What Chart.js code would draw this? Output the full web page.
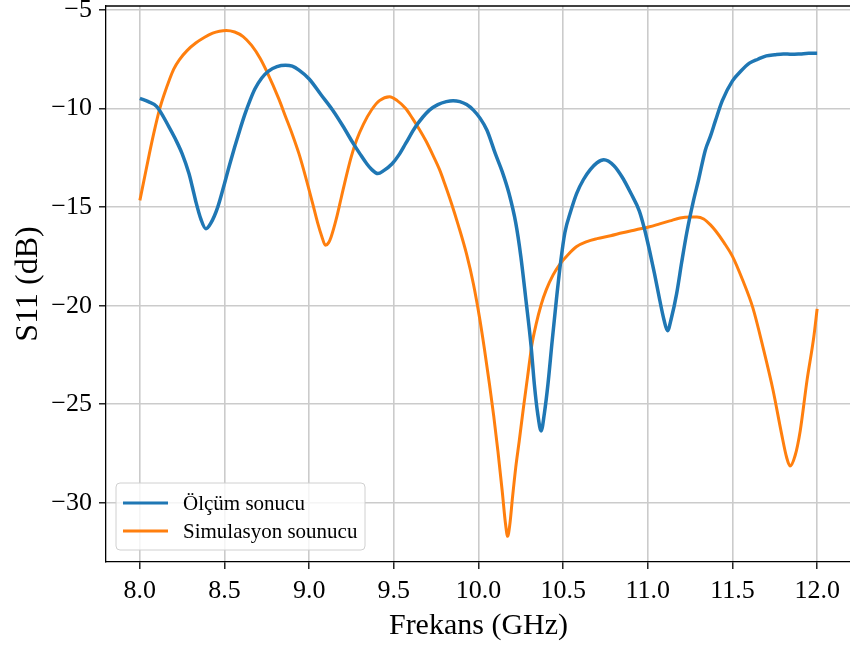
<!DOCTYPE html>
<html>
<head>
<meta charset="utf-8">
<script src="https://cdn.jsdelivr.net/npm/chart.js@4.4.0/dist/chart.umd.min.js"></script>
<style>
body { margin: 0; overflow: hidden; background: #fff; }
#wrap { width: 870px; height: 646px; position: relative; }
</style>
</head>
<body>
<div id="wrap"><canvas id="myChart"></canvas></div>
<script>
// measured S11 (blue)
const olcumX = [8.0, 8.05, 8.1, 8.17, 8.21, 8.25, 8.29, 8.31, 8.33, 8.36, 8.39, 8.42, 8.46, 8.5, 8.53, 8.56, 8.59, 8.62, 8.65, 8.68,
    8.72, 8.76, 8.81, 8.86, 8.9, 8.94, 9.0, 9.07, 9.14, 9.2, 9.26, 9.3, 9.34, 9.37, 9.405, 9.44, 9.49, 9.53, 9.57, 9.63,
    9.71, 9.76, 9.81, 9.85, 9.89, 9.93, 9.97, 10.01, 10.05, 10.1, 10.14, 10.18, 10.22, 10.25, 10.28, 10.31, 10.33, 10.35, 10.37, 10.39,
    10.41, 10.435, 10.46, 10.485, 10.51, 10.545, 10.58, 10.62, 10.66, 10.7, 10.74, 10.8, 10.85, 10.9, 10.95, 10.98, 11.01, 11.04, 11.07, 11.095,
    11.116, 11.14, 11.17, 11.2, 11.23, 11.27, 11.3, 11.34, 11.37, 11.4, 11.44, 11.5, 11.55, 11.6, 11.65, 11.7, 11.75, 11.8, 11.85, 11.9,
    11.95, 12.0];
const olcumY = [-9.48, -9.65, -9.9, -10.9, -11.55, -12.3, -13.3, -13.98, -14.7, -15.6, -16.1, -15.8, -15.0, -13.8, -12.85, -11.95, -11.1, -10.3, -9.6, -9.0,
    -8.45, -8.1, -7.87, -7.8, -7.85, -8.05, -8.5, -9.3, -10.1, -10.9, -11.77, -12.3, -12.8, -13.1, -13.3, -13.15, -12.8, -12.35, -11.77, -10.9,
    -10.08, -9.8, -9.65, -9.6, -9.65, -9.8, -10.08, -10.5, -11.1, -12.3, -13.2, -14.3, -15.8, -17.5, -19.7, -22.0, -24.0, -25.5, -26.35, -25.4,
    -24.0, -21.8, -19.7, -17.8, -16.3, -15.2, -14.3, -13.6, -13.1, -12.75, -12.6, -12.9, -13.5, -14.3, -15.2, -16.1, -17.2, -18.4, -19.7, -20.7,
    -21.27, -20.6, -19.4, -17.8, -16.3, -14.66, -13.6, -12.1, -11.4, -10.6, -9.6, -8.6, -8.1, -7.7, -7.5, -7.33, -7.27, -7.23, -7.25, -7.23,
    -7.2, -7.2];

// simulated S11 (orange)
const simX = [8.0, 8.03, 8.056, 8.085, 8.115, 8.145, 8.174, 8.2, 8.233, 8.28, 8.33, 8.38, 8.43, 8.47, 8.51, 8.56, 8.61, 8.66, 8.71, 8.75,
    8.82, 8.86, 8.9, 8.94, 8.98, 9.02, 9.05, 9.075, 9.096, 9.115, 9.13, 9.16, 9.19, 9.22, 9.25, 9.28, 9.32, 9.37, 9.415, 9.475,
    9.52, 9.57, 9.61, 9.65, 9.69, 9.73, 9.77, 9.8, 9.84, 9.88, 9.93, 9.97, 10.006, 10.035, 10.065, 10.09, 10.115, 10.14, 10.16, 10.172,
    10.185, 10.2, 10.22, 10.24, 10.265, 10.29, 10.315, 10.34, 10.37, 10.4, 10.44, 10.48, 10.53, 10.58, 10.64, 10.7, 10.78, 10.85, 10.93, 11.01,
    11.07, 11.13, 11.19, 11.25, 11.29, 11.33, 11.37, 11.4, 11.45, 11.5, 11.56, 11.62, 11.68, 11.74, 11.79, 11.82, 11.84, 11.87, 11.9, 11.94,
    11.98, 12.0];
const simY = [-14.66, -13.4, -12.3, -11.15, -10.08, -9.25, -8.55, -8.0, -7.53, -7.05, -6.68, -6.4, -6.18, -6.08, -6.04, -6.12, -6.35, -6.8, -7.45, -8.13,
    -9.5, -10.4, -11.3, -12.3, -13.5, -14.8, -15.8, -16.5, -16.94, -16.8, -16.5, -15.6, -14.5, -13.4, -12.4, -11.6, -10.8, -10.05, -9.6, -9.4,
    -9.6, -10.0, -10.5, -11.05, -11.65, -12.35, -13.1, -13.8, -14.8, -15.9, -17.4, -18.9, -20.6, -22.2, -24.0, -25.6, -27.4, -29.4, -31.1, -31.7,
    -31.1, -29.8, -28.2, -26.9, -25.2, -23.6, -22.0, -20.95, -19.95, -19.2, -18.45, -17.9, -17.4, -17.0, -16.75, -16.6, -16.45, -16.3, -16.15, -16.0,
    -15.85, -15.7, -15.55, -15.5, -15.5, -15.6, -15.9, -16.2, -16.8, -17.5, -18.7, -20.1, -22.1, -24.3, -26.5, -27.7, -28.13, -27.6, -26.35, -23.8,
    -21.6, -20.16];

const xTicks = [8.0, 8.5, 9.0, 9.5, 10.0, 10.5, 11.0, 11.5, 12.0];
const yTicks = [-30, -25, -20, -15, -10, -5];

const seriesNames = ["Ölçüm sonucu", "Simulasyon sounucu"];
const seriesColors = ["#1f77b4", "#ff7f0e"];

function toPoints(xs, ys) {
    return xs.map((x, i) => ({ x: x, y: ys[i] }));
}

const serif = "'Liberation Serif', 'DejaVu Serif', serif";

// top spine + legend box in the lower left
const extras = {
    id: "extras",
    afterDraw(chart) {
        const ctx = chart.ctx;
        const a = chart.chartArea;
        ctx.save();
        ctx.strokeStyle = "#000";
        ctx.lineWidth = 1.3;
        ctx.beginPath();
        ctx.moveTo(a.left, a.top);
        ctx.lineTo(a.right, a.top);
        ctx.stroke();

        let bx = a.left + 10, by = a.bottom - 79, bw = 249, bh = 67;
        ctx.fillStyle = "rgba(255,255,255,0.8)";
        ctx.strokeStyle = "#d0d0d0";
        ctx.lineWidth = 1;
        ctx.beginPath();
        ctx.roundRect(bx, by, bw, bh, 4);
        ctx.fill();
        ctx.stroke();

        ctx.font = "21px " + serif;
        ctx.textBaseline = "middle";
        seriesNames.forEach((name, i) => {
            let ly = by + 20 + i * 28;
            ctx.strokeStyle = seriesColors[i];
            ctx.lineWidth = 3;
            ctx.beginPath();
            ctx.moveTo(bx + 7, ly);
            ctx.lineTo(bx + 52, ly);
            ctx.stroke();
            ctx.fillStyle = "#000";
            ctx.fillText(name, bx + 67, ly + 1);
        });
        ctx.restore();
    }
};

const ctx = document.getElementById("myChart");
const myChart = new Chart(ctx, {
    type: "scatter",
    data: {
        datasets: [
            {
                label: seriesNames[0],
                data: toPoints(olcumX, olcumY),
                showLine: true,
                borderColor: seriesColors[0],
                borderWidth: 3.5,
                pointRadius: 0,
                cubicInterpolationMode: "monotone"
            },
            {
                label: seriesNames[1],
                data: toPoints(simX, simY),
                showLine: true,
                borderColor: seriesColors[1],
                borderWidth: 3,
                pointRadius: 0,
                cubicInterpolationMode: "monotone"
            }
        ]
    },
    options: {
        responsive: true,
        maintainAspectRatio: false,
        animation: false,
        layout: { padding: { top: 6, right: 19, left: 0, bottom: 0 } },
        plugins: {
            legend: { display: false },
            tooltip: { enabled: false }
        },
        scales: {
            x: {
                type: "linear",
                min: 7.8,
                max: 12.2,
                afterBuildTicks: (s) => { s.ticks = xTicks.map(v => ({ value: v })); },
                afterFit: (s) => { s.height = 84; s.paddingLeft = 0; s.paddingRight = 0; },
                ticks: {
                    color: "#000",
                    font: { family: serif, size: 26 },
                    padding: 7,
                    maxRotation: 0,
                    callback: (v) => v.toFixed(1)
                },
                grid: { color: "#cbcbcb", lineWidth: 1.6, tickColor: "#000", tickLength: 7, tickWidth: 1.3 },
                border: { color: "#000", width: 1.3 },
                title: { display: true, text: "Frekans (GHz)", color: "#000", font: { family: serif, size: 30 }, padding: { top: 0, bottom: 2 } }
            },
            y: {
                min: -33.0,
                max: -4.8,
                afterBuildTicks: (s) => { s.ticks = yTicks.map(v => ({ value: v })); },
                afterFit: (s) => { s.width = 106; s.paddingTop = 0; s.paddingBottom = 0; },
                ticks: {
                    color: "#000",
                    font: { family: serif, size: 26 },
                    padding: 7,
                    callback: (v) => v < 0 ? "\u2212" + Math.abs(v) : String(v)
                },
                grid: { color: "#cbcbcb", lineWidth: 1.6, tickColor: "#000", tickLength: 7, tickWidth: 1.3 },
                border: { color: "#000", width: 1.3 },
                title: { display: true, text: "S11 (dB)", color: "#000", font: { family: serif, size: 32 }, padding: { top: 9, bottom: 0 } }
            }
        }
    },
    plugins: [extras]
});
</script>
</body>
</html>
